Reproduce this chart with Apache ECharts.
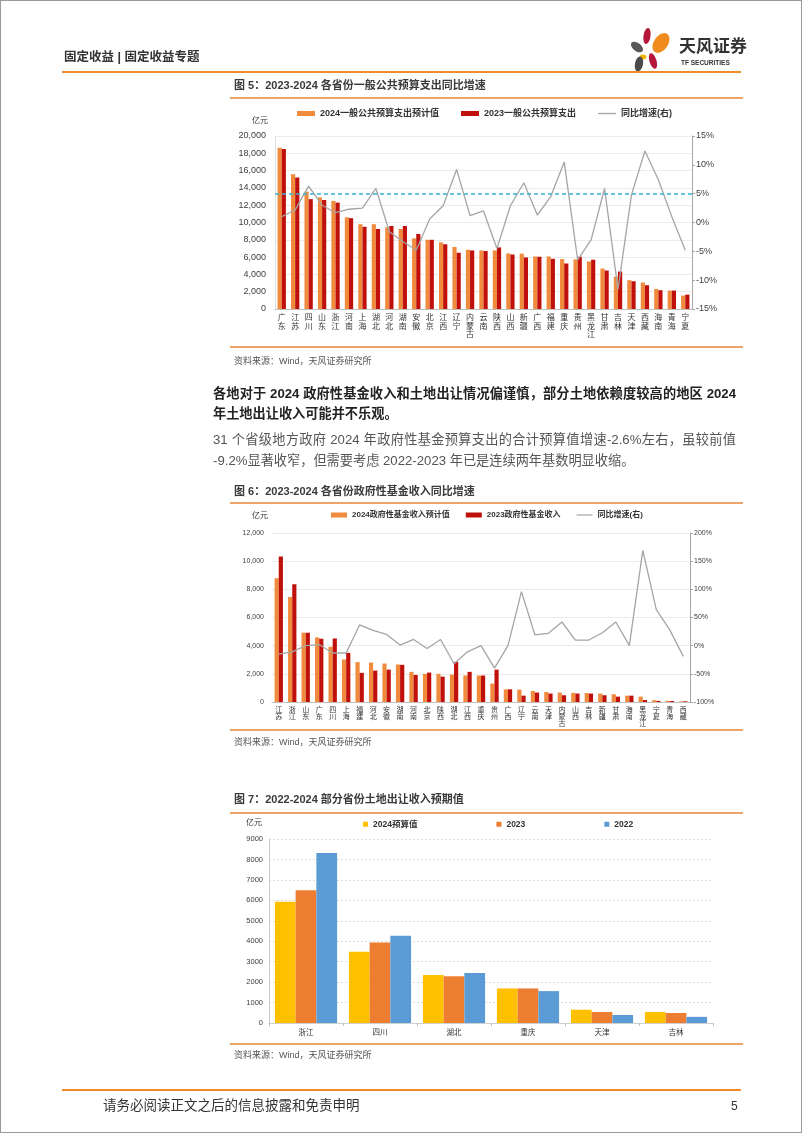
<!DOCTYPE html>
<html>
<head>
<meta charset="utf-8">
<script src="https://cdn.jsdelivr.net/npm/echarts@6.0.0/dist/echarts.min.js"></script>
<style>
  body { margin: 0; background: #fff; }
  #page { position: relative; width: 802px; height: 1133px; overflow: hidden;
          font-family: 'Liberation Sans', 'Noto Sans CJK SC', sans-serif; }
  #frame { position: absolute; left: 0; top: 0; width: 800px; height: 1131px; border: 1px solid #9a9a9a; }
  #chart { position: absolute; left: 0; top: 0; width: 802px; height: 1133px; }
  .t { position: absolute; white-space: nowrap; }
  .rule { position: absolute; height: 2px; background: #eda467; }
  .fig { left: 234px; font-size: 11px; font-weight: bold; color: #3a3a3a; line-height: 14px; }
  .src { left: 234px; font-size: 9px; color: #555; line-height: 12px; }
  .unit { font-size: 8px; color: #333; line-height: 10px; }
  .just { text-align: justify; text-align-last: justify; white-space: normal; height: 20px; overflow: visible; }
</style>
</head>
<body>
<div id="page">
  <div id="chart"></div>
  <div id="frame"></div>

  <div class="t" style="left:64px;top:49px;font-size:12.5px;font-weight:bold;color:#333;line-height:16px;">固定收益 | 固定收益专题</div>
  <div class="rule" style="left:62px;top:71px;width:679px;background:#f08a2c;"></div>
  <div class="t" style="left:679px;top:37px;font-size:17px;font-weight:bold;color:#333;line-height:20px;">天风证券</div>
  <div class="t" style="left:681px;top:59px;font-size:6.5px;font-weight:bold;color:#333;line-height:8px;">TF SECURITIES</div>

  <div class="t fig" style="top:78px;">图 5：2023-2024 各省份一般公共预算支出同比增速</div>
  <div class="rule" style="left:230px;top:97px;width:513px;"></div>
  <div class="t unit" style="left:252px;top:116px;">亿元</div>
  <div class="rule" style="left:230px;top:346px;width:513px;"></div>
  <div class="t src" style="top:355px;">资料来源：Wind，天风证券研究所</div>

  <div class="t just" style="left:213px;top:384px;width:523px;font-size:13.2px;font-weight:bold;color:#222;line-height:20px;">各地对于 2024 政府性基金收入和土地出让情况偏谨慎，部分土地依赖度较高的地区 2024</div>
  <div class="t" style="left:213px;top:404px;font-size:13.2px;font-weight:bold;color:#222;line-height:20px;">年土地出让收入可能并不乐观。</div>
  <div class="t just" style="left:213px;top:430px;width:523px;font-size:13.2px;color:#555;line-height:20px;">31 个省级地方政府 2024 年政府性基金预算支出的合计预算值增速-2.6%左右，虽较前值</div>
  <div class="t" style="left:213px;top:451px;font-size:13.2px;color:#555;line-height:20px;">-9.2%显著收窄，但需要考虑 2022-2023 年已是连续两年基数明显收缩。</div>

  <div class="t fig" style="top:484px;">图 6：2023-2024 各省份政府性基金收入同比增速</div>
  <div class="rule" style="left:230px;top:502px;width:513px;"></div>
  <div class="t unit" style="left:252px;top:511px;">亿元</div>
  <div class="rule" style="left:230px;top:729px;width:513px;"></div>
  <div class="t src" style="top:736px;">资料来源：Wind，天风证券研究所</div>

  <div class="t fig" style="top:792px;">图 7：2022-2024 部分省份土地出让收入预期值</div>
  <div class="rule" style="left:230px;top:812px;width:513px;"></div>
  <div class="t unit" style="left:246px;top:818px;">亿元</div>
  <div class="rule" style="left:230px;top:1043px;width:513px;"></div>
  <div class="t src" style="top:1049px;">资料来源：Wind，天风证券研究所</div>

  <div class="rule" style="left:62px;top:1089px;width:679px;background:#f08a2c;"></div>
  <div class="t" style="left:103px;top:1097px;font-size:13.5px;color:#333;line-height:18px;">请务必阅读正文之后的信息披露和免责申明</div>
  <div class="t" style="left:731px;top:1098px;font-size:12px;color:#333;line-height:16px;">5</div>
</div>

<script>
// 图5 一般公共预算支出
const provinces1 = ['广东', '江苏', '四川', '山东', '浙江', '河南', '上海', '湖北', '河北', '湖南', '安徽', '北京', '江西', '辽宁', '内蒙古', '云南',
    '陕西', '山西', '新疆', '广西', '福建', '重庆', '贵州', '黑龙江', '甘肃', '吉林', '天津', '西藏', '海南', '青海', '宁夏'];
const budget2024 = [18650, 15570, 13560, 12900, 12500, 10600, 9800, 9800, 9440, 9250, 8170, 8000, 7700, 7170, 6850, 6770,
    6770, 6420, 6400, 6070, 6070, 5770, 5730, 5500, 4680, 3750, 3330, 3060, 2320, 2130, 1550];
const actual2023 = [18500, 15200, 12700, 12600, 12300, 10500, 9500, 9250, 9600, 9600, 8670, 8000, 7480, 6500, 6770, 6700,
    7120, 6300, 5960, 6040, 5800, 5260, 6040, 5700, 4450, 4330, 3210, 2750, 2170, 2130, 1660];
const growth1 = [1.0, 2.2, 6.3, 3.0, 1.7, 2.3, 2.5, 5.9, -1.6, -3.3, -4.8, 0.6, 2.9, 9.2, 1.2, 2.0,
    -4.5, 2.9, 6.9, 1.3, 4.5, 10.5, -6.5, -3.0, 5.9, -11.6, 4.8, 12.4, 7.4, 1.0, -4.8];
const avgGrowth1 = 4.9;

// 图6 政府性基金收入
const provinces2 = ['江苏', '浙江', '山东', '广东', '四川', '上海', '福建', '河北', '安徽', '湖南', '河南', '北京', '陕西', '湖北', '江西', '重庆',
    '贵州', '广西', '辽宁', '云南', '天津', '内蒙古', '山西', '吉林', '新疆', '甘肃', '海南', '黑龙江', '宁夏', '青海', '西藏'];
const fund2024 = [8790, 7460, 4920, 4590, 3920, 3020, 2830, 2800, 2730, 2660, 2140, 2000, 2000, 1950, 1880, 1880,
    1310, 900, 880, 780, 710, 670, 650, 640, 600, 550, 450, 380, 130, 90, 40];
const fund2023 = [10340, 8360, 4920, 4490, 4510, 3490, 2070, 2230, 2300, 2640, 1920, 2090, 1800, 2850, 2140, 1880,
    2300, 900, 450, 670, 600, 480, 600, 600, 480, 380, 450, 140, 80, 70, 50];
const growth2 = [-15, -11, 0, 2, -13, -13, 37, 27, 20, 1, 11, -5, 11, -32, -11, 0,
    -40, 0, 96, 19, 22, 42, 10, 10, 23, 42, 0, 169, 64, 28, -19];

// 图7 土地出让收入
const landProvinces = ['浙江', '四川', '湖北', '重庆', '天津', '吉林'];
const land2024 = [5930, 3490, 2350, 1690, 650, 540];
const land2023 = [6490, 3940, 2290, 1690, 540, 490];
const land2022 = [8320, 4270, 2450, 1560, 390, 300];

const axisFont = "'Liberation Sans', 'Noto Sans CJK SC', sans-serif";
const vertical = v => v.split('').join('\n');
const thousands = v => v.toLocaleString('en-US');
// 细线图例（折线）
const lineIcon = 'path://M0,0 L40,0 L40,3 L0,3 Z';

const chart = echarts.init(document.getElementById('chart'), null, { renderer: 'canvas' });

const option = {
    animation: false,
    textStyle: { fontFamily: axisFont },
    grid: [
        { left: 275, top: 136, width: 417, height: 173 },
        { left: 272, top: 533, width: 418, height: 169 },
        { left: 269, top: 839, width: 444, height: 184 }
    ],
    legend: [
        {
            left: 297, top: 109, padding: 0, itemWidth: 18, itemHeight: 5, itemGap: 22,
            textStyle: { fontSize: 9, fontWeight: 'bold', color: '#333' },
            data: [
                { name: '2024一般公共预算支出预计值', icon: 'rect' },
                { name: '2023一般公共预算支出', icon: 'rect' },
                { name: '同比增速(右)', icon: lineIcon }
            ]
        },
        {
            left: 331, top: 511, padding: 0, itemWidth: 16, itemHeight: 5, itemGap: 16,
            textStyle: { fontSize: 8, fontWeight: 'bold', color: '#333' },
            data: [
                { name: '2024政府性基金收入预计值', icon: 'rect' },
                { name: '2023政府性基金收入', icon: 'rect' },
                { name: '同比增速 (右)', icon: lineIcon }
            ],
            formatter: n => n.replace(' (右)', '(右)')
        },
        {
            left: 363, top: 820, padding: 0, itemWidth: 5, itemHeight: 5, itemGap: 79, icon: 'rect',
            textStyle: { fontSize: 8.5, fontWeight: 'bold', color: '#333' },
            data: ['2024预算值', '2023', '2022']
        }
    ],
    xAxis: [
        {
            type: 'category', gridIndex: 0, data: provinces1,
            axisTick: { show: false },
            axisLine: { lineStyle: { color: '#bfbfbf' } },
            axisLabel: { interval: 0, fontSize: 8, lineHeight: 8.3, margin: 5, color: '#333', verticalAlign: 'top', formatter: vertical }
        },
        {
            type: 'category', gridIndex: 1, data: provinces2,
            axisTick: { show: false },
            axisLine: { lineStyle: { color: '#bfbfbf' } },
            axisLabel: { interval: 0, fontSize: 7, lineHeight: 7.3, margin: 4, color: '#333', verticalAlign: 'top', formatter: vertical }
        },
        {
            type: 'category', gridIndex: 2, data: landProvinces,
            axisTick: { show: true, length: 3, lineStyle: { color: '#bfbfbf' } },
            axisLine: { lineStyle: { color: '#d0d0d0' } },
            axisLabel: { fontSize: 7.5, margin: 6, color: '#333' }
        }
    ],
    yAxis: [
        {
            type: 'value', gridIndex: 0, min: 0, max: 20000, interval: 2000,
            axisLine: { show: true, lineStyle: { color: '#e0e0e0' } },
            axisLabel: { fontSize: 9, color: '#404040', margin: 9, formatter: thousands },
            splitLine: { lineStyle: { color: '#ebebeb' } }
        },
        {
            type: 'value', gridIndex: 0, position: 'right', min: -15, max: 15, interval: 5,
            axisLine: { show: true, lineStyle: { color: '#a6a6a6' } },
            axisTick: { show: true, length: 3, lineStyle: { color: '#a6a6a6' } },
            axisLabel: { fontSize: 9, color: '#404040', margin: 4, formatter: '{value}%' },
            splitLine: { show: false }
        },
        {
            type: 'value', gridIndex: 1, min: 0, max: 12000, interval: 2000,
            axisLine: { show: false },
            axisLabel: { fontSize: 7, color: '#404040', margin: 8, formatter: thousands },
            splitLine: { lineStyle: { color: '#ebebeb' } }
        },
        {
            type: 'value', gridIndex: 1, position: 'right', min: -100, max: 200, interval: 50,
            axisLine: { show: true, lineStyle: { color: '#a6a6a6' } },
            axisTick: { show: true, length: 3, lineStyle: { color: '#a6a6a6' } },
            axisLabel: { fontSize: 7, color: '#404040', margin: 4, formatter: '{value}%' },
            splitLine: { show: false }
        },
        {
            type: 'value', gridIndex: 2, min: 0, max: 9000, interval: 1000,
            axisLine: { show: true, lineStyle: { color: '#c8c8c8' } },
            axisLabel: { fontSize: 7.5, color: '#404040', margin: 6, formatter: v => String(v) },
            splitLine: { lineStyle: { color: '#dcdcdc', type: [2, 2] } }
        }
    ],
    series: [
        {
            name: '2024一般公共预算支出预计值', type: 'bar', xAxisIndex: 0, yAxisIndex: 0,
            barCategoryGap: '38%', barGap: '0%', itemStyle: { color: '#f08a3c' }, data: budget2024
        },
        {
            name: '2023一般公共预算支出', type: 'bar', xAxisIndex: 0, yAxisIndex: 0,
            itemStyle: { color: '#c0100c' }, data: actual2023
        },
        {
            name: '同比增速(右)', type: 'line', xAxisIndex: 0, yAxisIndex: 1, symbol: 'none',
            lineStyle: { color: '#a5a5a5', width: 1.3 }, itemStyle: { color: '#a5a5a5' }, data: growth1,
            markLine: {
                silent: true, symbol: 'none', label: { show: false },
                lineStyle: { color: '#35b1d6', type: [4, 3], width: 1.6 },
                data: [{ yAxis: avgGrowth1 }]
            }
        },
        {
            name: '2024政府性基金收入预计值', type: 'bar', xAxisIndex: 1, yAxisIndex: 2,
            barCategoryGap: '38%', barGap: '0%', itemStyle: { color: '#f08a3c' }, data: fund2024
        },
        {
            name: '2023政府性基金收入', type: 'bar', xAxisIndex: 1, yAxisIndex: 2,
            itemStyle: { color: '#c0100c' }, data: fund2023
        },
        {
            name: '同比增速 (右)', type: 'line', xAxisIndex: 1, yAxisIndex: 3, symbol: 'none',
            lineStyle: { color: '#a5a5a5', width: 1.3 }, itemStyle: { color: '#a5a5a5' }, data: growth2
        },
        {
            name: '2024预算值', type: 'bar', xAxisIndex: 2, yAxisIndex: 4,
            barCategoryGap: '16%', barGap: '0%', itemStyle: { color: '#ffc000' }, data: land2024
        },
        {
            name: '2023', type: 'bar', xAxisIndex: 2, yAxisIndex: 4,
            itemStyle: { color: '#ed7d31' }, data: land2023
        },
        {
            name: '2022', type: 'bar', xAxisIndex: 2, yAxisIndex: 4,
            itemStyle: { color: '#5b9bd5' }, data: land2022
        }
    ],
    // 天风证券 logo 花瓣
    graphic: [
        { type: 'ellipse', shape: { cx: 0, cy: 0, rx: 3.5, ry: 8 }, x: 647, y: 36, rotation: -0.15, style: { fill: '#b5173b' } },
        { type: 'ellipse', shape: { cx: 0, cy: 0, rx: 7, ry: 11 }, x: 661, y: 43, rotation: -0.6, style: { fill: '#f08c1e' } },
        { type: 'ellipse', shape: { cx: 0, cy: 0, rx: 4, ry: 7 }, x: 637, y: 47, rotation: 0.9, style: { fill: '#585858' } },
        { type: 'ellipse', shape: { cx: 0, cy: 0, rx: 3.5, ry: 2.5 }, x: 643, y: 57, style: { fill: '#f5b400' } },
        { type: 'ellipse', shape: { cx: 0, cy: 0, rx: 4, ry: 7.5 }, x: 639, y: 64, rotation: -0.2, style: { fill: '#4a4a4a' } },
        { type: 'ellipse', shape: { cx: 0, cy: 0, rx: 3.5, ry: 8 }, x: 653, y: 61, rotation: 0.3, style: { fill: '#b5173b' } }
    ]
};

chart.setOption(option);
</script>
</body>
</html>
